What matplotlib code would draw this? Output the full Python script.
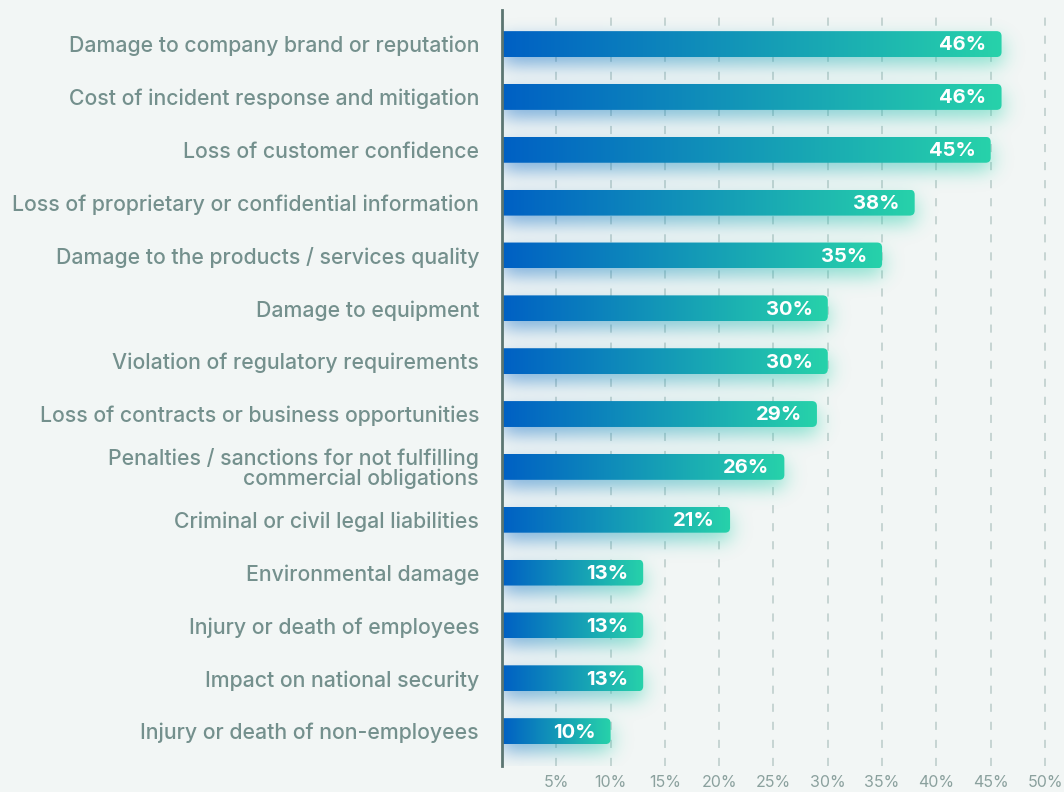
import numpy as np
import matplotlib
matplotlib.use("Agg")
import matplotlib.pyplot as plt
from matplotlib.patches import FancyBboxPatch
from matplotlib.colors import to_rgb

categories = [
    "Damage to company brand or reputation",
    "Cost of incident response and mitigation",
    "Loss of customer confidence",
    "Loss of proprietary or confidential information",
    "Damage to the products / services quality",
    "Damage to equipment",
    "Violation of regulatory requirements",
    "Loss of contracts or business opportunities",
    "Penalties / sanctions for not fulfilling\ncommercial obligations",
    "Criminal or civil legal liabilities",
    "Environmental damage",
    "Injury or death of employees",
    "Impact on national security",
    "Injury or death of non-employees",
]
values = [46, 46, 45, 38, 35, 30, 30, 29, 26, 21, 13, 13, 13, 10]
tick_values = [5, 10, 15, 20, 25, 30, 35, 40, 45, 50]
tick_labels = [f"{t}%" for t in tick_values]

BG = "#f2f6f5"
BLUE = np.array(to_rgb("#0060c4"))
TEAL = np.array(to_rgb("#27d2aa"))
LABEL_C = "#74908d"
TICK_C = "#8ba19e"
AXIS_C = "#5b7571"
GRID_C = "#c3d2d0"

plt.rcParams['font.family'] = ['Inter', 'DejaVu Sans']

W_PX, H_PX = 1064, 792
fig = plt.figure(figsize=(W_PX / 100, H_PX / 100), dpi=100, facecolor=BG)
ax_left, ax_right, ax_top, ax_bot = 502, 1064, 10, 766
ax = fig.add_axes([ax_left / W_PX, 1 - ax_bot / H_PX,
                   (ax_right - ax_left) / W_PX, (ax_bot - ax_top) / H_PX])
ax.set_facecolor(BG)
n = len(values)
xmax = 51.75
ymin, ymax = n - 1 + 0.66, -0.645
ax.set_xlim(0, xmax)
ax.set_ylim(ymin, ymax)

axw = ax_right - ax_left
axh = ax_bot - ax_top
px_per_x = axw / xmax
px_per_y = axh / (ymin - ymax)

bar_h = 0.49

# grid
for t in tick_values:
    ax.axvline(t, color=GRID_C, lw=1.3, ls=(0, (4.5, 5.5)), zorder=0.5)

# shadow image
H, W = axh, axw
xs = (np.arange(W) + 0.5) / W * xmax
ys = ymax + (np.arange(H) + 0.5) / H * (ymin - ymax)
prem = np.zeros((H, W, 3))
alpha = np.zeros((H, W))
off = 8 / px_per_y
for i, v in enumerate(values):
    rowmask = (ys >= i - bar_h / 2 + off) & (ys <= i + bar_h / 2 + off)
    colmask = (xs >= 0) & (xs <= v)
    m = np.outer(rowmask, colmask).astype(float)
    t = np.clip(xs / v, 0, 1)
    col = BLUE[None, :] * (1 - t)[:, None] + TEAL[None, :] * t[:, None]
    prem += m[:, :, None] * col[None, :, :]
    alpha += m

def gauss_mat(N, sigma):
    idx = np.arange(N)
    K = np.exp(-0.5 * ((idx[:, None] - idx[None, :]) / sigma) ** 2)
    K /= (sigma * np.sqrt(2 * np.pi))
    return K

Ky = gauss_mat(H, 9.0)
Kx = gauss_mat(W, 10.0)
alpha_b = Ky @ alpha @ Kx.T
prem_b = np.stack([Ky @ prem[:, :, c] @ Kx.T for c in range(3)], axis=-1)
with np.errstate(invalid="ignore", divide="ignore"):
    rgb = np.where(alpha_b[:, :, None] > 1e-6, prem_b / alpha_b[:, :, None], 0)
img = np.dstack([np.clip(rgb, 0, 1), np.clip(alpha_b * 0.5, 0, 1)])
ax.imshow(img, extent=(0, xmax, ymin, ymax), aspect="auto", zorder=1,
          interpolation="bilinear")

# bars
rad_px = 5
rx = rad_px / px_per_x
ry = rad_px / px_per_y
grad = np.linspace(0, 1, 256)
grad_img = (BLUE[None, :] * (1 - grad)[:, None] + TEAL[None, :] * grad[:, None])[None, :, :]
for i, v in enumerate(values):
    patch = FancyBboxPatch((-1, i - bar_h / 2), v + 1, bar_h,
                           boxstyle=f"round,pad=0,rounding_size={rx}",
                           mutation_aspect=ry / rx,
                           fc="none", ec="none", zorder=2)
    ax.add_patch(patch)
    im = ax.imshow(grad_img, extent=(0, v, i + bar_h / 2, i - bar_h / 2),
                   aspect="auto", zorder=2, interpolation="bilinear")
    im.set_clip_path(patch)
    ax.annotate(f"{v}%", (v, i), xytext=(-11, -1), textcoords="offset points",
                ha="right", va="center", color="white", fontsize=14.5,
                fontweight="bold", zorder=3)

ax.set_xlim(0, xmax)
ax.set_ylim(ymin, ymax)
ax.set_yticks(range(n))
ax.set_yticklabels(categories, color=LABEL_C, fontsize=15.3, fontweight="medium",
                   linespacing=0.95)
ax.set_xticks(tick_values)
ax.set_xticklabels(tick_labels, color=TICK_C, fontsize=11.5)
ax.tick_params(axis="y", length=0, pad=16.5)
ax.tick_params(axis="x", length=0, pad=6.5)
for s in ["top", "right", "bottom"]:
    ax.spines[s].set_visible(False)
ax.spines["left"].set_color(AXIS_C)
ax.spines["left"].set_linewidth(2)
ax.spines["left"].set_zorder(4)

fig.savefig("out.png", dpi=100, facecolor=BG)
